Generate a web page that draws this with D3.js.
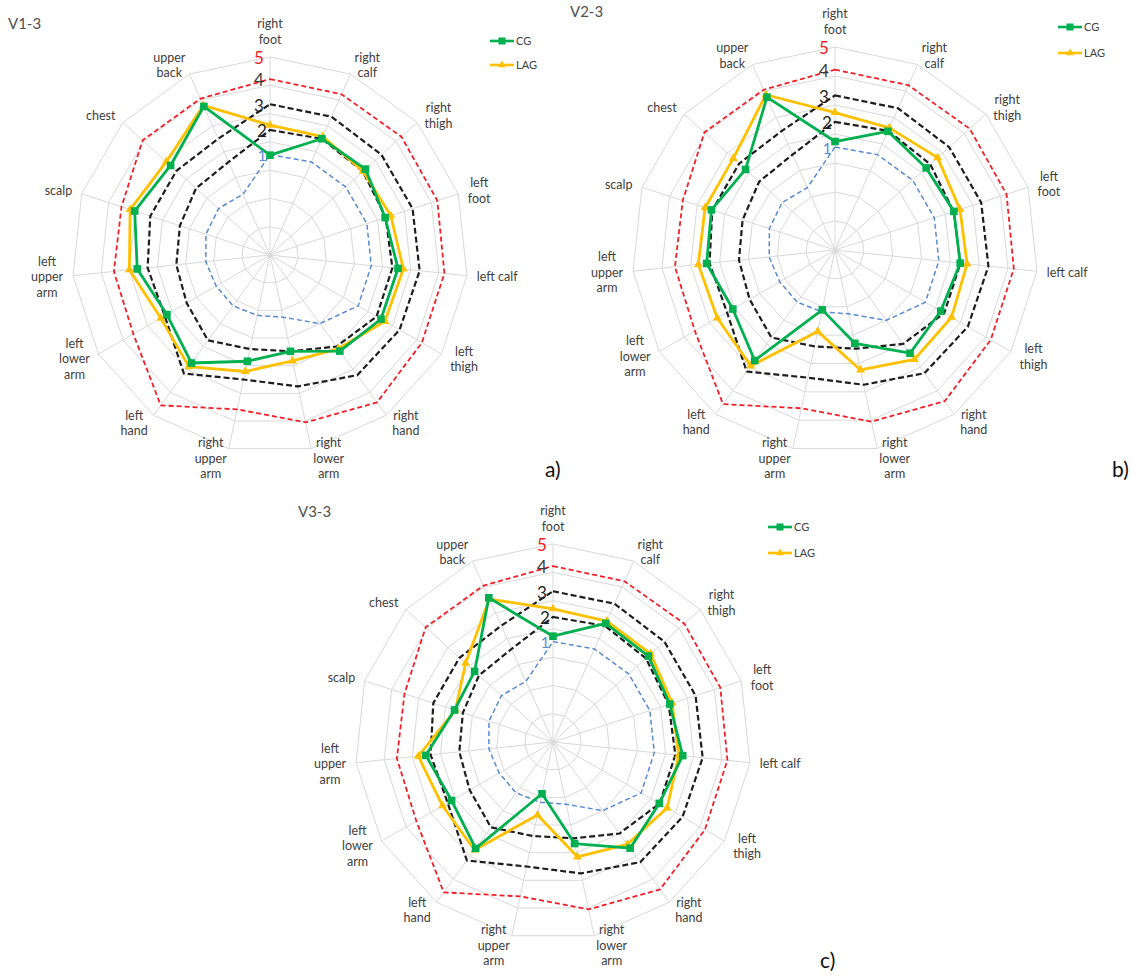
<!DOCTYPE html>
<html>
<head>
<meta charset="utf-8">
<script src="https://cdn.jsdelivr.net/npm/d3@7"></script>
<style>
  html, body { margin: 0; padding: 0; background: #ffffff; }
  svg { display: block; }
  text { font-family: Lato, "Open Sans", sans-serif; }
</style>
</head>
<body>
<svg id="chart" width="1140" height="976"></svg>
<script>
// ---------- data ----------
const axes = ["right foot", "right calf", "right thigh", "left foot", "left calf", "left thigh",
  "right hand", "right lower arm", "right upper arm", "left hand", "left lower arm",
  "left upper arm", "scalp", "chest", "upper back"];
const axisLines = [["right", "foot"], ["right", "calf"], ["right", "thigh"], ["left", "foot"], ["left calf"],
  ["left", "thigh"], ["right", "hand"], ["right", "lower", "arm"], ["right", "upper", "arm"], ["left", "hand"],
  ["left", "lower", "arm"], ["left", "upper", "arm"], ["scalp"], ["chest"], ["upper", "back"]];

const radialTicks = [-1, 0, 1, 2, 3, 4, 5];
const radialMin = -2, radialMax = 5;

// reference (dashed) curves, labelled 1..4, outer ring 5
const ref1 = [1.55, 1.6, 1.6, 1.6, 1.6, 1.6, 1.0, 0.25, 0.18, 0.22, 0.2, 0.28, 0.38, 0.45, 0.35];
const ref2 = [2.42, 2.5, 2.42, 2.3, 2.35, 2.35, 2.0, 1.48, 1.4, 1.73, 1.4, 1.33, 1.35, 1.52, 1.6];
const ref3 = [3.33, 3.35, 3.3, 3.3, 3.32, 3.29, 3.25, 2.75, 2.5, 3.18, 2.3, 2.35, 2.45, 2.45, 2.5];
const ref4 = [4.22, 4.22, 4.25, 4.22, 4.2, 4.2, 4.44, 4.05, 3.58, 4.57, 3.58, 3.55, 3.52, 4.06, 4.05];
const refLabels = ["1", "2", "3", "4", "5"];

const cgV1 = [1.53, 2.5, 2.54, 2.28, 2.55, 2.53, 2.2, 1.48, 1.84, 2.72, 2.21, 2.72, 3.03, 2.73, 3.75];
const lagV1 = [2.59, 2.58, 2.43, 2.49, 2.74, 2.69, 2.1, 1.83, 2.21, 2.88, 2.46, 3.0, 3.2, 2.93, 3.79];
const cgV2 = [1.74, 2.48, 2.23, 2.31, 2.34, 2.21, 2.4, 1.29, 0.11, 2.71, 2.07, 2.45, 2.48, 2.15, 3.77];
const lagV2 = [2.74, 2.61, 2.76, 2.53, 2.58, 2.64, 2.66, 2.23, 0.87, 2.94, 2.69, 2.74, 2.71, 2.72, 3.86];
const cgV3 = [1.74, 2.59, 2.54, 2.34, 2.61, 2.34, 2.64, 1.67, -0.13, 2.65, 2.14, 2.52, 1.66, 1.73, 3.58];
const lagV3 = [2.71, 2.68, 2.65, 2.43, 2.47, 2.66, 2.47, 2.15, 0.64, 2.72, 2.51, 2.79, 1.63, 2.16, 3.53];

const seriesNames = ["CG", "LAG"];
const panelTitles = ["V1-3", "V2-3", "V3-3"];
const panelTags = ["a)", "b)", "c)"];

// ---------- layout ----------
const layout = [
  { cx: 270, cy: 255, R: 198, title: [8, 29], tag: [545, 477], legend: [490, 41, 24] },
  { cx: 835, cy: 250, R: 203, title: [570, 17], tag: [1112, 477], legend: [1058, 27, 26] },
  { cx: 553, cy: 742, R: 198, title: [298, 517], tag: [820, 968], legend: [768, 527, 26] }
];
const panelData = [[cgV1, lagV1], [cgV2, lagV2], [cgV3, lagV3]];

const colors = { CG: "#00b050", LAG: "#ffc000", grid: "#d9d9d9", text: "#404040",
  red: "#f0202a", black: "#1e1e1e", blue: "#5a8ad0" };

const svg = d3.select("#chart");
const angle = d3.scalePoint().domain(axes).range([0, 2 * Math.PI * (axes.length - 1) / axes.length]);

layout.forEach((L, pi) => {
  const g = svg.append("g").attr("transform", `translate(${L.cx},${L.cy})`);
  const r = d3.scaleLinear().domain([radialMin, radialMax]).range([0, L.R]);
  const pt = (a, v) => [Math.sin(angle(a)) * r(v), -Math.cos(angle(a)) * r(v)];
  const radial = d3.lineRadial().curve(d3.curveLinearClosed)
    .angle((d, i) => angle(axes[i])).radius(d => r(d));

  // grid rings (polygons)
  radialTicks.forEach(t => {
    g.append("path").attr("d", radial(axes.map(() => t)))
      .attr("fill", "none").attr("stroke", colors.grid).attr("stroke-width", 1);
  });
  // spokes
  axes.forEach(a => {
    const [x, y] = pt(a, radialMax);
    g.append("line").attr("x1", 0).attr("y1", 0).attr("x2", x).attr("y2", y)
      .attr("stroke", colors.grid).attr("stroke-width", 1);
  });

  // reference dashed curves
  const refs = [
    { v: ref1, c: colors.blue, w: 1.5, dash: "5,3" },
    { v: ref2, c: colors.black, w: 2.2, dash: "6,3" },
    { v: ref3, c: colors.black, w: 2.2, dash: "6,3" },
    { v: ref4, c: colors.red, w: 1.8, dash: "5,3" }
  ];
  refs.forEach(ref => {
    g.append("path").attr("d", radial(ref.v)).attr("fill", "none")
      .attr("stroke", ref.c).attr("stroke-width", ref.w).attr("stroke-dasharray", ref.dash);
  });

  // data series
  const [cg, lag] = panelData[pi];
  const drawSeries = (vals, col, marker) => {
    g.append("path").attr("d", radial(vals)).attr("fill", "none")
      .attr("stroke", col).attr("stroke-width", 2.8).attr("stroke-linejoin", "round");
    vals.forEach((v, i) => {
      const [x, y] = pt(axes[i], v);
      if (marker === "square") {
        g.append("rect").attr("x", x - 3.8).attr("y", y - 3.8).attr("width", 7.6).attr("height", 7.6).attr("fill", col);
      } else {
        g.append("path").attr("d", d3.symbol(d3.symbolTriangle, 34)())
          .attr("transform", `translate(${x},${y})`).attr("fill", col);
      }
    });
  };
  drawSeries(lag, colors.LAG, "triangle");
  drawSeries(cg, colors.CG, "square");

  // reference labels 1..5 near the top spoke
  const labelVals = [ref1[0], ref2[0], ref3[0], ref4[0], radialMax];
  const labelCols = [colors.blue, colors.black, colors.black, "#3a3a3a", colors.red];
  refLabels.forEach((s, i) => {
    g.append("text").attr("x", i < 2 ? -8 : -11).attr("y", -r(labelVals[i]) + 3)
      .attr("text-anchor", "middle").attr("dominant-baseline", "middle")
      .attr("font-size", i === 0 ? 15 : 17).attr("fill", labelCols[i]).text(s);
  });

  // axis labels
  const lh = 15.5, fs = 12.5;
  axes.forEach((a, i) => {
    const th = angle(a);
    const s = Math.sin(th), c = -Math.cos(th);
    const ar = L.R + 10;
    const ax = s * ar, ay = c * ar;
    const lines = axisLines[i];
    const t = g.append("text").attr("font-size", fs).attr("fill", colors.text).attr("text-anchor", "middle");
    lines.forEach((ln, k) => t.append("tspan").attr("x", 0).attr("dy", k === 0 ? 0 : lh).text(ln));
    let w = 0;
    t.selectAll("tspan").each(function () { w = Math.max(w, this.getComputedTextLength()); });
    const h = lines.length * lh;
    let bx, by;
    if (Math.abs(s) < 0.05) { bx = ax; by = c < 0 ? ay - h / 2 : ay + h / 2; }
    else { bx = s > 0 ? ax + w / 2 : ax - w / 2; by = ay; }
    const firstBaseline = by - h / 2 + lh * 0.5 + fs * 0.35;
    t.selectAll("tspan").attr("x", bx);
    t.attr("x", bx).attr("y", firstBaseline);
    t.select("tspan").attr("y", firstBaseline);
  });

  // title and tag
  svg.append("text").attr("x", L.title[0]).attr("y", L.title[1]).attr("font-size", 15)
    .attr("fill", "#505050").text(panelTitles[pi]);
  svg.append("text").attr("x", L.tag[0]).attr("y", L.tag[1]).attr("font-size", 21)
    .attr("fill", "#111").text(panelTags[pi]);

  // legend
  const [lx, ly, step] = L.legend;
  seriesNames.forEach((name, k) => {
    const col = k === 0 ? colors.CG : colors.LAG;
    const y = ly + k * step;
    svg.append("line").attr("x1", lx).attr("x2", lx + 24).attr("y1", y).attr("y2", y)
      .attr("stroke", col).attr("stroke-width", 2.6);
    if (k === 0) {
      svg.append("rect").attr("x", lx + 12 - 3.5).attr("y", y - 3.5).attr("width", 7).attr("height", 7).attr("fill", col);
    } else {
      svg.append("path").attr("d", d3.symbol(d3.symbolTriangle, 26)())
        .attr("transform", `translate(${lx + 12},${y})`).attr("fill", col);
    }
    svg.append("text").attr("x", lx + 26).attr("y", y + 4).attr("font-size", 11)
      .attr("fill", colors.text).text(name);
  });
});
</script>
</body>
</html>
